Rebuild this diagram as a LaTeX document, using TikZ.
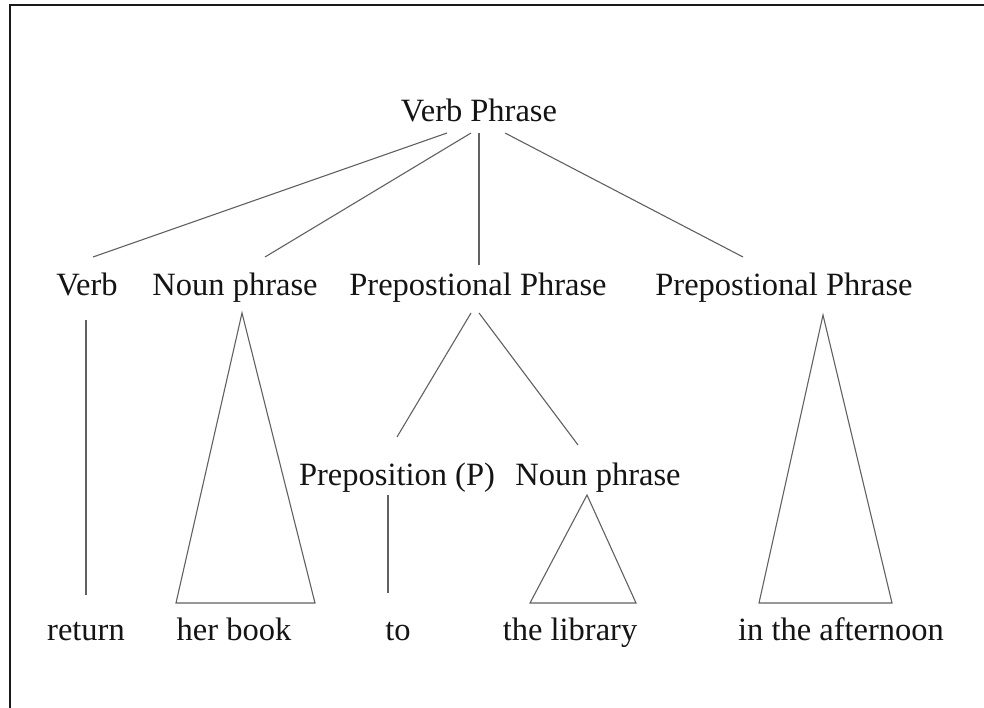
\documentclass[tikz,border=0pt]{standalone}
\usepackage{fontspec}
\setmainfont{Liberation Serif}
\begin{document}
\begin{tikzpicture}[x=1pt,y=-1pt,
  lbl/.style={anchor=base,inner sep=0pt,font=\fontsize{32.5}{36}\selectfont,text=black!92},
  edge/.style={draw=black!62,line width=1.1pt},
  frame/.style={draw=black!90,line width=2pt}]
\useasboundingbox (0,0) rectangle (984,708);
\fill[white] (0,0) rectangle (984,708);
% outer frame (left and top sides)
\draw[frame] (10,708) -- (10,5) -- (984,5);

% labels
\node[lbl] (vp)   at (479,122) {Verb Phrase};
\node[lbl] (v)    at (87,296)  {Verb};
\node[lbl] (np1)  at (235,296) {Noun phrase};
\node[lbl] (pp1)  at (478,296) {Prepostional Phrase};
\node[lbl] (pp2)  at (784,296) {Prepostional Phrase};
\node[lbl] (p)    at (397,485) {Preposition (P)};
\node[lbl] (np2)  at (598,485) {Noun phrase};
\node[lbl] (w1)   at (86,640)  {return};
\node[lbl] (w2)   at (234,640) {her book};
\node[lbl] (w3)   at (398,640) {to};
\node[lbl] (w4)   at (570,640) {the library};
\node[lbl] (w5)   at (841,640) {in the afternoon};

% branch end points
\coordinate (vp-v)   at (447,133);
\coordinate (vp-np)  at (471,133);
\coordinate (vp-pp1) at (479,133);
\coordinate (vp-pp2) at (505,133);
\coordinate (v-up)   at (93,257);
\coordinate (np1-up) at (265,257);
\coordinate (pp1-up) at (479,265);
\coordinate (pp2-up) at (743,257);

\coordinate (v-dn)   at (86,320);
\coordinate (w1-up)  at (86,595);
\coordinate (np1-dn) at (242,313);
\coordinate (w2-l)   at (176,603);
\coordinate (w2-r)   at (315,603);

\coordinate (pp1-dl) at (471,313);
\coordinate (pp1-dr) at (479,313);
\coordinate (p-up)   at (397,437);
\coordinate (np2-up) at (578,445);

\coordinate (p-dn)   at (388,495);
\coordinate (w3-up)  at (388,593);
\coordinate (np2-dn) at (587,495);
\coordinate (w4-l)   at (530,603);
\coordinate (w4-r)   at (636,603);

\coordinate (pp2-dn) at (823,315);
\coordinate (w5-l)   at (759,603);
\coordinate (w5-r)   at (892,603);

% top level branches
\draw[edge] (vp-v) -- (v-up);
\draw[edge] (vp-np) -- (np1-up);
\draw[edge] (vp-pp1) -- (pp1-up);
\draw[edge] (vp-pp2) -- (pp2-up);

% Verb and first noun phrase
\draw[edge] (v-dn) -- (w1-up);
\draw[edge] (np1-dn) -- (w2-l) -- (w2-r) -- cycle;

% first prepositional phrase
\draw[edge] (pp1-dl) -- (p-up);
\draw[edge] (pp1-dr) -- (np2-up);
\draw[edge] (p-dn) -- (w3-up);
\draw[edge] (np2-dn) -- (w4-l) -- (w4-r) -- cycle;

% second prepositional phrase
\draw[edge] (pp2-dn) -- (w5-l) -- (w5-r) -- cycle;
\end{tikzpicture}
\end{document}
